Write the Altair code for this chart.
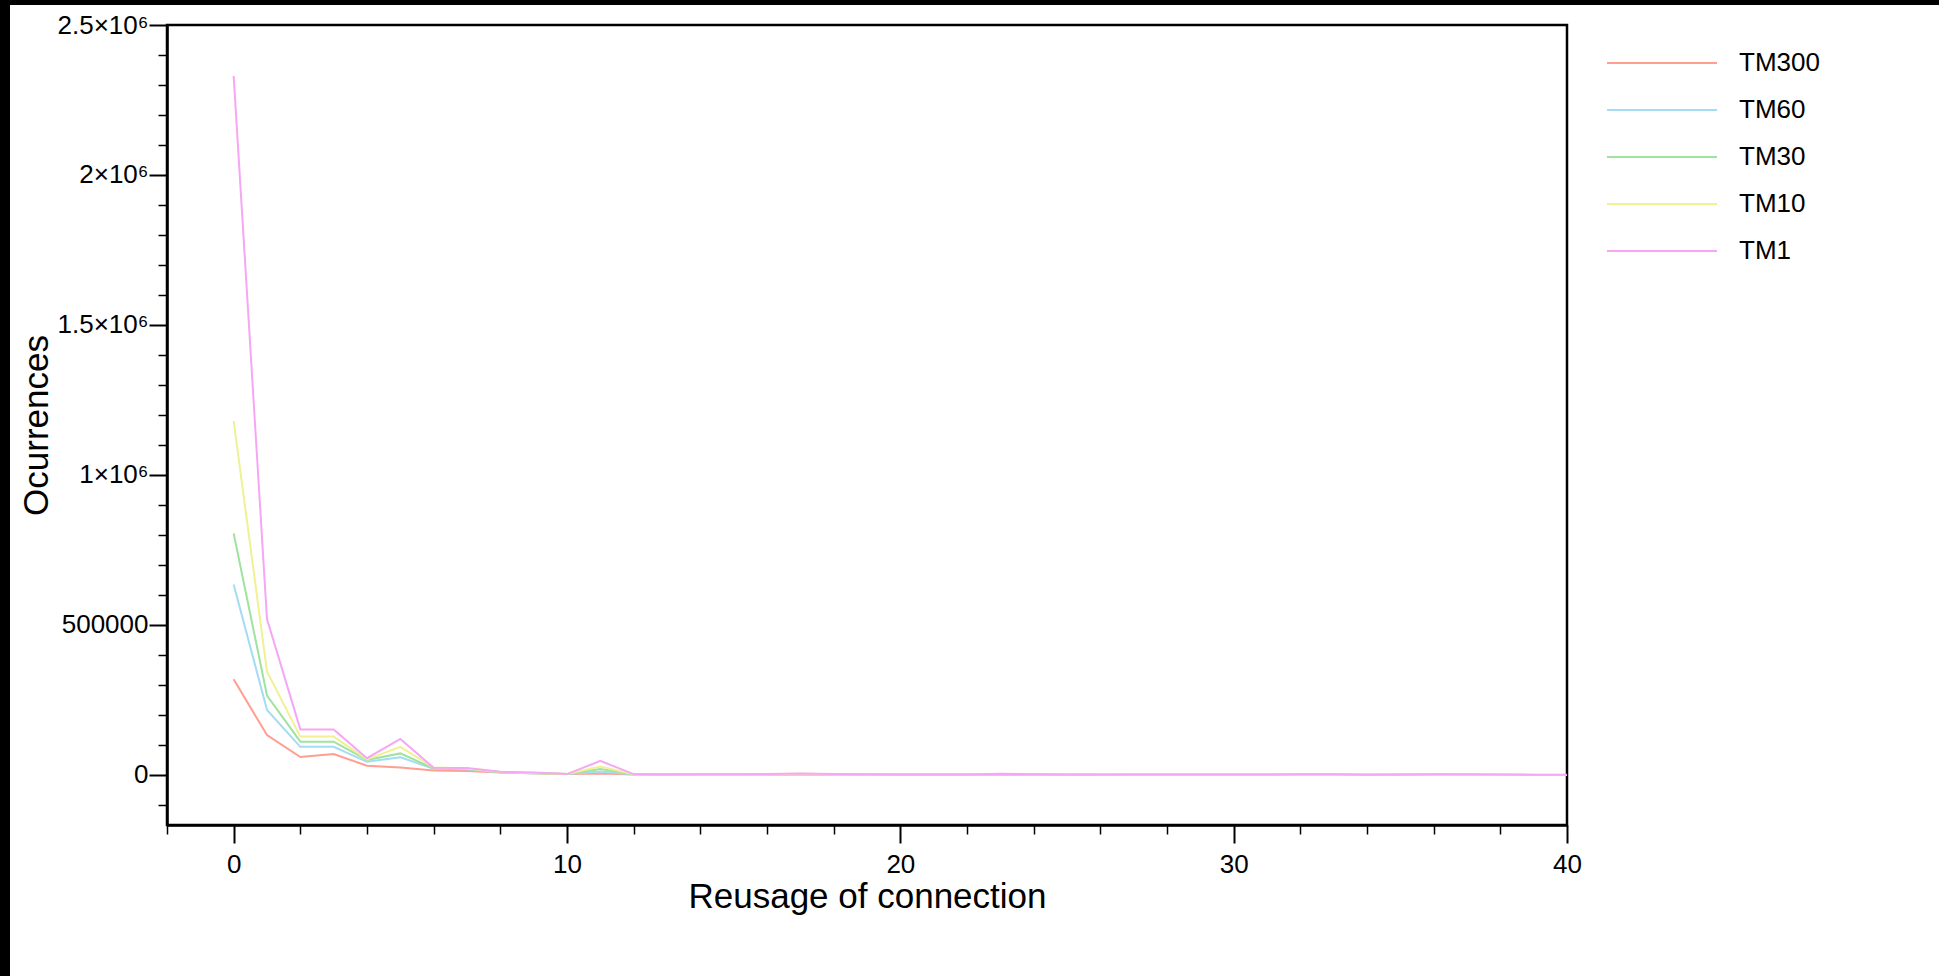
import altair as alt
import pandas as pd

# ---- data ----
reuse = list(range(41))
series_names = ["TM300", "TM60", "TM30", "TM10", "TM1"]
series_colors = ["#ff9e91", "#a3dcf3", "#9fe39f", "#f0f094", "#f5a6f5"]

tm300 = [319000, 133000, 60000, 70000, 31000, 25000, 15000, 13000, 8000, 6000,
         3000, 5000, 2000, 1800, 1600, 1500, 1500, 2000, 1500, 1200,
         1200, 1100, 1000, 1200, 1000, 900, 800, 800, 700, 700,
         700, 600, 600, 600, 500, 800, 500, 400, 400, 300, 300]
tm60 = [635000, 217000, 94000, 94000, 44000, 59000, 21000, 19000, 8000, 6000,
        3000, 12000, 2000, 2000, 1800, 1700, 2000, 3000, 2000, 1500,
        1500, 1400, 1300, 2000, 1300, 1100, 1000, 1000, 900, 900,
        900, 800, 800, 800, 700, 1200, 700, 600, 500, 400, 300]
tm30 = [805000, 265000, 111000, 111000, 50000, 72000, 22000, 20000, 9000, 6000,
        3000, 20000, 2200, 2000, 1900, 1800, 2200, 3500, 2200, 1600,
        1600, 1500, 1400, 2500, 1400, 1200, 1100, 1100, 1000, 1000,
        1000, 900, 900, 900, 800, 1800, 800, 700, 600, 400, 300]
tm10 = [1180000, 345000, 128000, 128000, 52000, 94000, 25000, 22000, 10000, 7000,
        3000, 28000, 2500, 2200, 2000, 2000, 2500, 4000, 2500, 2000,
        1800, 1700, 1600, 3000, 1600, 1400, 1300, 1200, 1100, 1100,
        1100, 1000, 1000, 1000, 900, 2000, 900, 800, 700, 500, 400]
tm1 = [2330000, 520000, 152000, 152000, 56000, 120000, 24000, 23000, 11000, 8000,
       3000, 47000, 3000, 2500, 2500, 2200, 3000, 5000, 3000, 2200,
       2000, 2000, 2000, 4000, 2500, 2000, 1500, 1500, 1500, 1500,
       1500, 1500, 2500, 2500, 1000, 2000, 2500, 2500, 2000, 800, 500]

x_major = [0, 10, 20, 30, 40]
x_minor = [-2, 2, 4, 6, 8, 12, 14, 16, 18, 22, 24, 26, 28, 32, 34, 36, 38]
y_major = [0, 500000, 1000000, 1500000, 2000000, 2500000]
y_minor = [-100000, 100000, 200000, 300000, 400000, 600000, 700000, 800000, 900000,
           1100000, 1200000, 1300000, 1400000, 1600000, 1700000, 1800000, 1900000,
           2100000, 2200000, 2300000, 2400000]

rows = []
for name, vals in zip(series_names, [tm300, tm60, tm30, tm10, tm1]):
    for xv, yv in zip(reuse, vals):
        rows.append({"reuse": xv, "occ": yv, "series": name})
df = pd.DataFrame(rows)

FONT = "Liberation Sans"
xscale = alt.Scale(domain=[-2, 40], nice=False, zero=False)
yscale = alt.Scale(domain=[-166667, 2500000], nice=False, zero=False)

lines = alt.Chart(df).mark_line(strokeWidth=2).encode(
    x=alt.X("reuse:Q", scale=xscale,
            axis=alt.Axis(orient="bottom", values=x_major, tickSize=18, tickWidth=2,
                          labelFontSize=26, labelPadding=8, labelFlush=False,
                          format="d",
                          title="Reusage of connection", titleFontSize=35,
                          titleFontWeight="normal", titleX=700, titleY=82,
                          titleAlign="center", titleBaseline="alphabetic")),
    y=alt.Y("occ:Q", scale=yscale,
            axis=alt.Axis(orient="left", values=y_major, tickSize=18, tickWidth=2,
                          labelFontSize=26, labelPadding=1, labelFlush=False,
                          labelExpr="datum.value == 0 ? '0' : (datum.value == 500000 ? '500000' : (datum.value / 1000000) + '×10⁶')",
                          title="Ocurrences", titleFontSize=35, titleFontWeight="normal",
                          titleX=-120, titleY=400, titleAngle=270,
                          titleAlign="center", titleBaseline="alphabetic")),
    color=alt.Color("series:N",
                    scale=alt.Scale(domain=series_names, range=series_colors),
                    sort=series_names,
                    legend=alt.Legend(orient="none", legendX=1482, legendY=25,
                                      title=None, symbolType="M-5,0L5,0", symbolSize=484,
                                      symbolStrokeWidth=2, labelFontSize=26, labelOffset=64,
                                      rowPadding=21, padding=0, labelColor="#000")),
)

minor = alt.Chart(df).mark_line(strokeOpacity=0).encode(
    x=alt.X("reuse:Q", scale=xscale,
            axis=alt.Axis(orient="bottom", values=x_minor, tickSize=9, tickWidth=1.5,
                          labels=False, domain=False, title="")),
    y=alt.Y("occ:Q", scale=yscale,
            axis=alt.Axis(orient="left", values=y_minor, tickSize=9, tickWidth=1.5,
                          labels=False, domain=False, title="")),
)

frame_df = pd.DataFrame({"k": [0]})
strip_left = alt.Chart(frame_df).mark_rect(color="black", clip=False).encode(
    x=alt.value(-167), x2=alt.value(-157), y=alt.value(-25), y2=alt.value(951))
strip_top = alt.Chart(frame_df).mark_rect(color="black", clip=False).encode(
    x=alt.value(-167), x2=alt.value(1772), y=alt.value(-25), y2=alt.value(-20))

chart = alt.layer(strip_left, strip_top, minor, lines).resolve_axis(
    x="independent", y="independent"
).properties(
    width=1400, height=800,
    autosize=alt.AutoSizeParams(type="none"),
    padding={"left": 167, "top": 25, "right": 372, "bottom": 151},
    background="white",
).configure_view(
    stroke="black", strokeWidth=2.5
).configure_axis(
    grid=False, domainColor="black", domainWidth=2.5, tickColor="black",
    labelColor="#000", titleColor="#000", labelFont=FONT, titleFont=FONT,
).configure_legend(
    labelFont=FONT
)

chart.save("out.html", embed_options={"renderer": "svg", "actions": False})
